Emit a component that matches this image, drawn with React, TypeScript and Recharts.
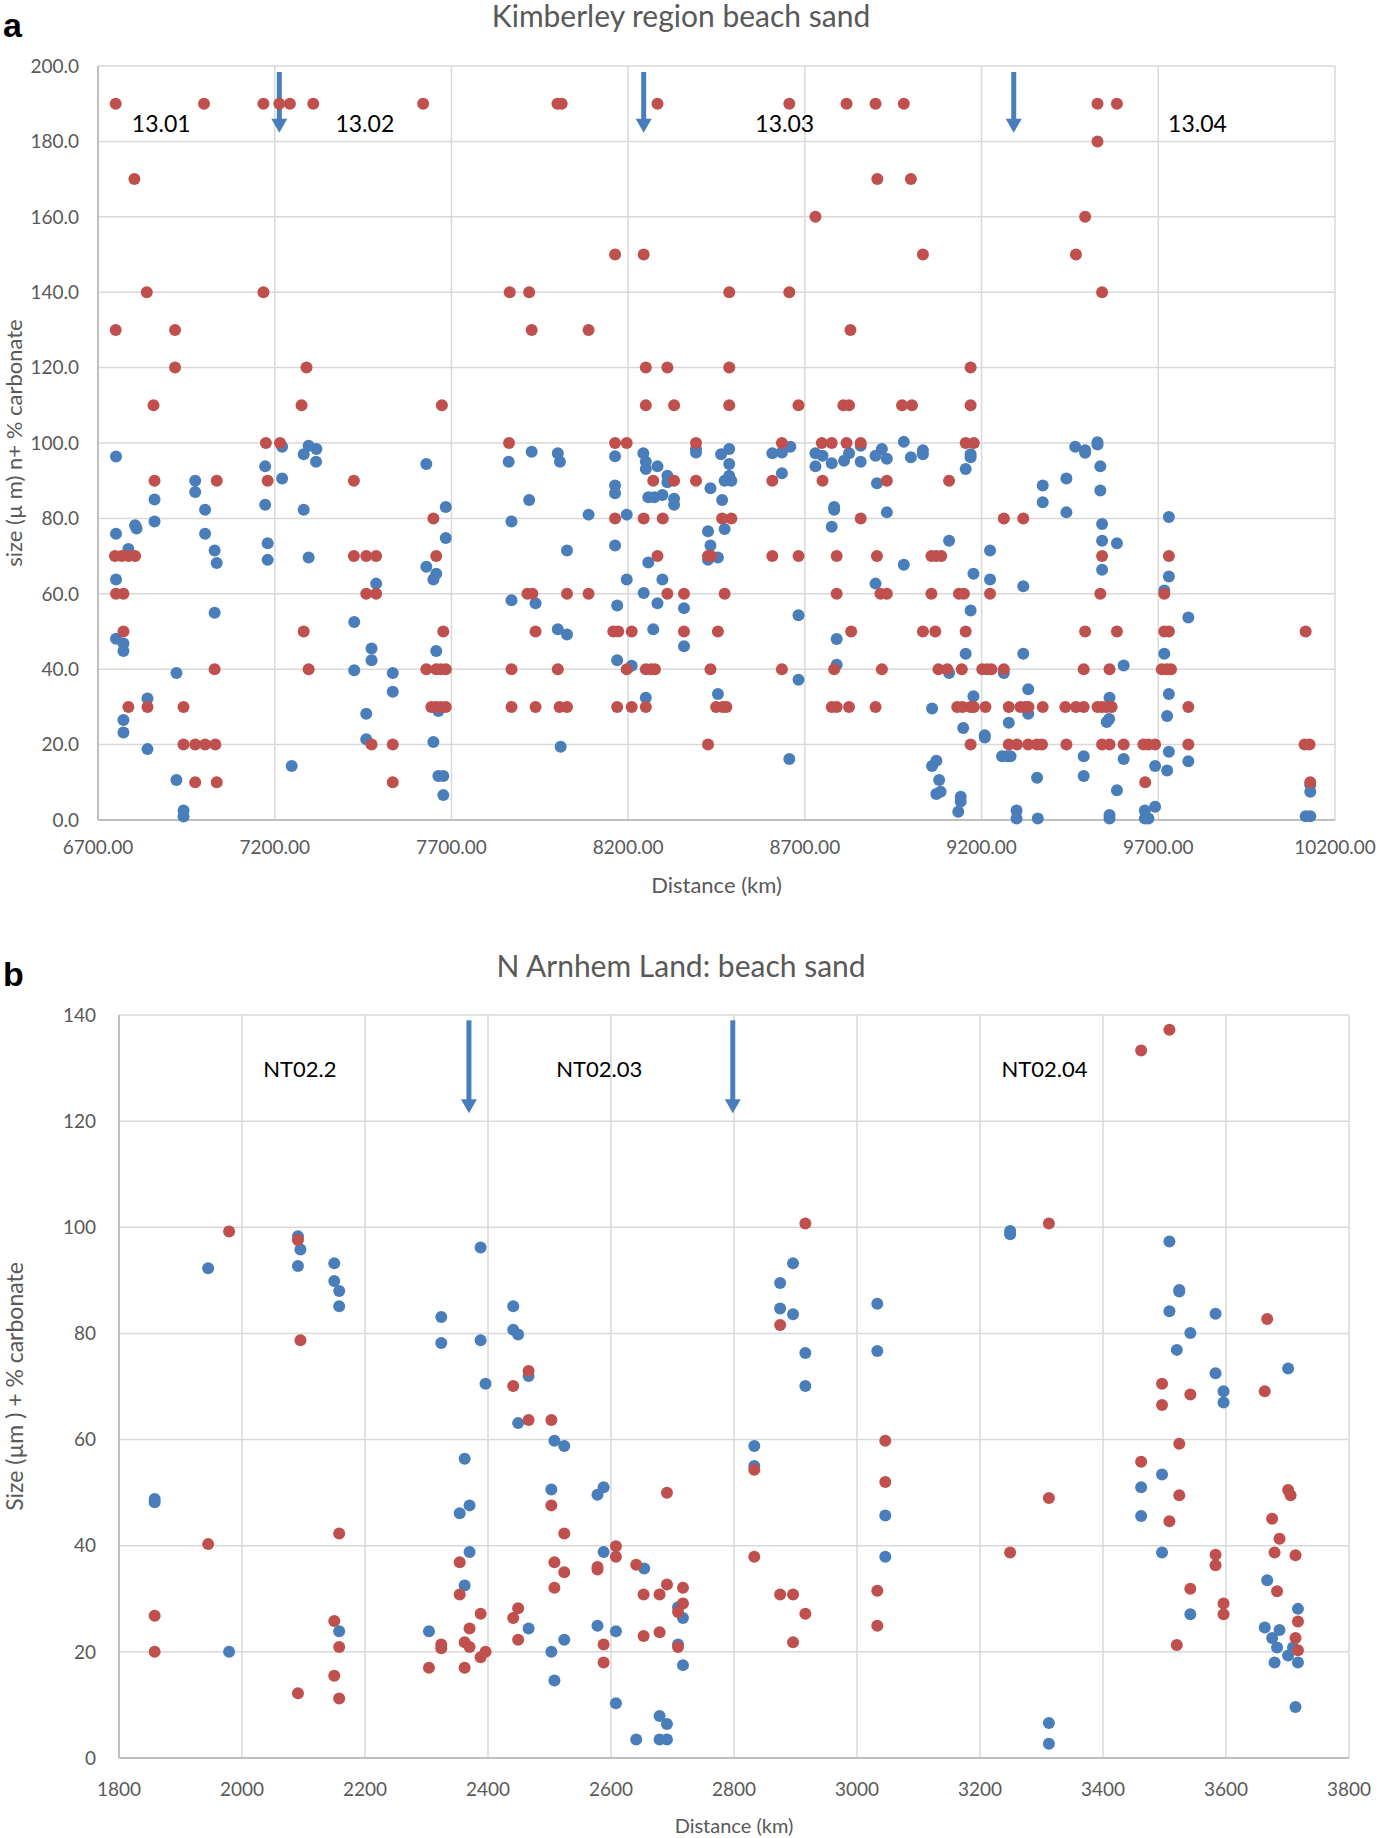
import React from "react";
import {
  CartesianGrid,
  Label,
  ReferenceDot,
  ReferenceLine,
  Scatter,
  ScatterChart,
  XAxis,
  YAxis,
} from "recharts";

const BLUE = "#4a7ebb";
const RED = "#c0504d";
const GRID = "#d9d9d9";
const AXIS = "#bfbfbf";
const TEXT = "#595959";
const FONT = "Lato, 'Open Sans', sans-serif";

// ---- panel a: Kimberley ----
const kimXTicks = [6700, 7200, 7700, 8200, 8700, 9200, 9700, 10200];
const kimYTicks = [0, 20, 40, 60, 80, 100, 120, 140, 160, 180, 200];
const kimArrows = [7213, 8244, 9291];
const kimSections = ["13.01", "13.02", "13.03", "13.04"];
const kimSectionKm = [6879, 7455, 8643, 9811];

const kimBlue: [number, number][] = [
  [6751, 96.4], [6751, 75.9], [6751, 63.8], [6751, 48.1], [6772, 46.8], [6772, 44.8], [6772, 26.5],
  [6772, 23.2], [6786, 71.9], [6805, 78.2], [6809, 77.3], [6840, 32.2], [6840, 18.8], [6860, 85],
  [6860, 79.2], [6922, 39], [6922, 10.6], [6942, 2.5], [6942, 0.9], [6975, 90], [6975, 87],
  [7003, 82.3], [7003, 75.9], [7030, 71.5], [7030, 55], [7036, 68.2], [7173, 93.8], [7173, 83.6],
  [7180, 73.4], [7180, 69], [7221, 99], [7221, 90.6], [7248, 14.3], [7282, 97], [7282, 82.3],
  [7296, 99.3], [7296, 69.6], [7317, 95], [7318, 98.4], [7425, 52.5], [7425, 39.7], [7459, 28.2],
  [7459, 21.4], [7474, 45.5], [7474, 42.4], [7487, 62.7], [7534, 39], [7534, 34], [7629, 94.4],
  [7629, 67.2], [7649, 63.8], [7649, 20.7], [7657, 65.3], [7657, 44.8], [7663, 28.9], [7663, 11.7],
  [7677, 11.7], [7677, 6.6], [7684, 83], [7684, 74.8], [7862, 95], [7870, 79.2], [7870, 58.3],
  [7920, 84.9], [7927, 97.7], [7938, 57.5], [8001, 97.3], [8001, 50.6], [8007, 95], [8009, 19.4],
  [8027, 71.5], [8027, 49.2], [8088, 81], [8163, 96.5], [8163, 88.7], [8163, 86.7], [8163, 72.8],
  [8169, 56.9], [8169, 42.4], [8196, 81], [8196, 63.8], [8210, 40.9], [8243, 97.3], [8244, 60.2],
  [8250, 95], [8250, 93.1], [8250, 32.4], [8257, 85.6], [8257, 68.3], [8271, 50.6], [8274, 85.6],
  [8283, 93.8], [8283, 57.5], [8297, 86.2], [8297, 63.8], [8311, 91.3], [8311, 89.6], [8330, 85.2],
  [8330, 83.6], [8358, 56.2], [8358, 46.1], [8392, 98.4], [8392, 97.5], [8426, 76.6], [8426, 69],
  [8433, 88], [8433, 72.8], [8454, 69.6], [8454, 33.4], [8463, 97], [8466, 84.9], [8473, 90],
  [8473, 77.2], [8486, 98.4], [8486, 94.4], [8486, 91.3], [8492, 90], [8608, 97.3], [8635, 97.5],
  [8635, 92], [8656, 16.2], [8659, 99], [8682, 54.3], [8682, 37.2], [8730, 97.3], [8730, 93.8],
  [8750, 96.6], [8776, 94.6], [8776, 77.8], [8783, 83], [8783, 82.3], [8790, 48], [8790, 41.2],
  [8811, 95.3], [8825, 97.3], [8858, 99.3], [8858, 95], [8900, 96.6], [8900, 62.7], [8904, 89.3],
  [8918, 98.4], [8932, 95.8], [8932, 81.6], [8980, 100.3], [8980, 67.7], [9000, 96.2], [9034, 98.1],
  [9034, 97], [9060, 29.6], [9060, 14.3], [9072, 15.7], [9080, 10.6], [9072, 6.9], [9084, 7.5],
  [9108, 74.1], [9108, 39], [9134, 2.2], [9141, 6.2], [9141, 4.9], [9148, 24.4], [9155, 93.1],
  [9155, 44.1], [9169, 97], [9169, 96.2], [9169, 55.6], [9177, 65.3], [9177, 32.8], [9209, 22.5],
  [9209, 21.9], [9224, 71.5], [9224, 63.8], [9258, 16.9], [9263, 39], [9272, 16.9], [9277, 25.8],
  [9282, 16.9], [9299, 2.5], [9299, 0.4], [9318, 62], [9318, 44.1], [9332, 34.7], [9332, 28.2],
  [9357, 11.2], [9359, 0.4], [9373, 88.7], [9373, 84.3], [9440, 90.6], [9440, 81.6], [9465, 99],
  [9489, 16.9], [9489, 11.7], [9493, 98.1], [9493, 97.4], [9528, 100.2], [9528, 99.6], [9536, 93.8],
  [9536, 87.4], [9541, 78.5], [9541, 74.1], [9541, 66.4], [9554, 26], [9561, 26.8], [9562, 32.4],
  [9562, 1.3], [9562, 0.4], [9583, 73.4], [9583, 7.9], [9602, 41], [9602, 16.2], [9662, 2.5],
  [9662, 0.4], [9672, 0.4], [9691, 14.3], [9691, 3.5], [9717, 60.9], [9717, 44.1], [9725, 27.6],
  [9725, 13.1], [9730, 80.4], [9730, 64.6], [9730, 33.4], [9730, 18.1], [9785, 53.7], [9785, 15.6],
  [10117, 1], [10130, 1], [10130, 9.3], [10130, 7.5],
];

const kimRed: [number, number][] = [
  [6750, 190], [7000, 190], [7168, 190], [7213, 190], [7243, 190], [7309, 190], [7620, 190],
  [8000, 190], [8012, 190], [8283, 190], [8656, 190], [8818, 190], [8900, 190], [8980, 190],
  [9528, 190], [9583, 190], [9528, 180], [6803, 170], [8905, 170], [9000, 170], [8730, 160],
  [9493, 160], [8163, 150], [8244, 150], [9034, 150], [9467, 150], [6838, 140], [7168, 140],
  [7865, 140], [7920, 140], [8486, 140], [8656, 140], [9541, 140], [6750, 130], [6918, 130],
  [7927, 130], [8088, 130], [8829, 130], [6918, 120], [7290, 120], [8250, 120], [8311, 120],
  [8486, 120], [9169, 120], [6857, 110], [7276, 110], [7673, 110], [8250, 110], [8330, 110],
  [8486, 110], [8682, 110], [8809, 110], [8825, 110], [8975, 110], [9003, 110], [9169, 110],
  [7175, 100], [7215, 100], [7863, 100], [8163, 100], [8196, 100], [8392, 100], [8635, 100],
  [8748, 100], [8776, 100], [8818, 100], [8858, 100], [9155, 100], [9178, 100],
  [6860, 90], [7036, 90], [7180, 90], [7424, 90], [8271, 90], [8330, 90], [8392, 90], [8608, 90],
  [8750, 90], [8932, 90], [9108, 90],
  [7649, 80], [8163, 80], [8244, 80], [8298, 80], [8466, 80], [8492, 80], [8858, 80], [9263, 80],
  [9318, 80],
  [6748, 70], [6767, 70], [6786, 70], [6805, 70], [7424, 70], [7459, 70], [7487, 70], [7657, 70],
  [8283, 70], [8426, 70], [8435, 70], [8608, 70], [8682, 70], [8790, 70], [8904, 70], [9058, 70],
  [9072, 70], [9086, 70], [9541, 70], [9730, 70],
  [6751, 60], [6772, 60], [7459, 60], [7487, 60], [7915, 60], [7929, 60], [8027, 60], [8088, 60],
  [8311, 60], [8358, 60], [8473, 60], [8790, 60], [8914, 60], [8932, 60], [9058, 60], [9136, 60],
  [9150, 60], [9224, 60], [9536, 60], [9717, 60],
  [6772, 50], [7282, 50], [7677, 50], [7938, 50], [8158, 50], [8172, 50], [8210, 50], [8358, 50],
  [8454, 50], [8831, 50], [9034, 50], [9069, 50], [9155, 50], [9493, 50], [9583, 50], [9717, 50],
  [9730, 50], [10117, 50],
  [7030, 40], [7296, 40], [7629, 40], [7657, 40], [7670, 40], [7684, 40], [7870, 40], [8001, 40],
  [8196, 40], [8250, 40], [8265, 40], [8276, 40], [8433, 40], [8635, 40], [8783, 40], [8918, 40],
  [9078, 40], [9103, 40], [9144, 40], [9202, 40], [9216, 40], [9228, 40], [9263, 40], [9489, 40],
  [9562, 40], [9710, 40], [9724, 40], [9736, 40],
  [6786, 30], [6840, 30], [6942, 30], [7643, 30], [7657, 30], [7670, 30], [7684, 30], [7870, 30],
  [7938, 30], [8006, 30], [8027, 30], [8169, 30], [8210, 30], [8250, 30], [8449, 30], [8468, 30],
  [8478, 30], [8776, 30], [8790, 30], [8825, 30], [8900, 30], [9131, 30], [9146, 30], [9169, 30],
  [9178, 30], [9211, 30], [9277, 30], [9310, 30], [9324, 30], [9333, 30], [9373, 30], [9437, 30],
  [9467, 30], [9489, 30], [9528, 30], [9541, 30], [9554, 30], [9568, 30], [9785, 30],
  [6942, 20], [6975, 20], [7003, 20], [7032, 20], [7474, 20], [7534, 20], [8426, 20], [9169, 20],
  [9277, 20], [9300, 20], [9332, 20], [9357, 20], [9371, 20], [9440, 20], [9541, 20], [9562, 20],
  [9602, 20], [9658, 20], [9672, 20], [9691, 20], [9785, 20], [10114, 20], [10128, 20],
  [6975, 10], [7036, 10], [7534, 10], [9663, 10], [10130, 10],
];

// ---- panel b: N Arnhem Land ----
const arnXTicks = [1800, 2000, 2200, 2400, 2600, 2800, 3000, 3200, 3400, 3600, 3800];
const arnYTicks = [0, 20, 40, 60, 80, 100, 120, 140];
const arnArrows = [2369, 2798];
const arnSections = ["NT02.2", "NT02.03", "NT02.04"];
const arnSectionKm = [2094, 2581, 3305];

const arnBlue: [number, number][] = [
  [1858, 48.8], [1858, 48.2], [1945, 92.3], [1979, 20], [2091, 98.3], [2095, 95.8], [2091, 92.7],
  [2150, 93.2], [2150, 89.9], [2158, 88], [2158, 85.1], [2158, 23.9], [2304, 23.9], [2324, 83.1],
  [2324, 78.2], [2354, 46.1], [2362, 56.4], [2362, 32.5], [2370, 47.6], [2370, 38.8], [2388, 96.2],
  [2388, 78.7], [2396, 70.5], [2441, 85.1], [2441, 80.7], [2449, 79.8], [2449, 63.1], [2466, 72],
  [2466, 24.4], [2503, 50.6], [2503, 20], [2508, 59.8], [2508, 14.6], [2524, 58.8], [2524, 22.3],
  [2578, 49.6], [2578, 24.9], [2588, 51], [2588, 38.8], [2608, 23.9], [2608, 10.3], [2641, 3.5],
  [2654, 35.7], [2679, 7.9], [2679, 3.5], [2691, 6.4], [2691, 3.5], [2709, 28.4], [2709, 21.4],
  [2717, 26.4], [2717, 17.5], [2833, 58.8], [2833, 55], [2875, 89.5], [2875, 84.7], [2896, 93.2],
  [2896, 83.6], [2916, 76.3], [2916, 70.1], [3033, 85.6], [3033, 76.7], [3046, 45.7], [3046, 37.9],
  [3249, 99.3], [3249, 98.7], [3312, 6.6], [3312, 2.7], [3462, 51], [3462, 45.6], [3496, 53.4],
  [3496, 38.7], [3508, 97.3], [3508, 84.2], [3520, 76.9], [3524, 88.2], [3524, 87.9], [3542, 80.1],
  [3542, 27.1], [3583, 83.7], [3583, 72.5], [3596, 69.1], [3596, 67], [3663, 24.6], [3667, 33.5],
  [3675, 22.6], [3679, 18], [3683, 20.8], [3687, 24.1], [3701, 73.4], [3701, 19.3], [3709, 20.8],
  [3713, 9.6], [3717, 28.1], [3717, 18],
];

const arnRed: [number, number][] = [
  [1858, 26.8], [1858, 20], [1945, 40.3], [1979, 99.2], [2091, 97.6], [2091, 12.2], [2095, 78.7],
  [2150, 25.8], [2150, 15.5], [2158, 42.3], [2158, 20.9], [2158, 11.2], [2304, 17], [2324, 21.4],
  [2324, 20.7], [2354, 36.9], [2354, 30.8], [2362, 21.8], [2362, 17], [2370, 24.4], [2370, 20.9],
  [2388, 27.2], [2388, 19], [2396, 20], [2441, 70.1], [2441, 26.4], [2449, 28.2], [2449, 22.3],
  [2466, 72.9], [2466, 63.7], [2503, 63.7], [2503, 47.6], [2508, 36.9], [2508, 32.1], [2524, 42.3],
  [2524, 35], [2578, 36], [2578, 35.5], [2588, 21.4], [2588, 18], [2608, 39.9], [2608, 37.9],
  [2641, 36.4], [2653, 30.8], [2653, 23], [2679, 30.8], [2679, 23.7], [2691, 50], [2691, 32.7],
  [2709, 27.5], [2709, 20.9], [2717, 32.1], [2717, 29.1], [2833, 54.3], [2833, 37.9], [2875, 81.6],
  [2875, 30.8], [2896, 30.8], [2896, 21.8], [2916, 100.7], [2916, 27.2], [3033, 31.5], [3033, 24.9],
  [3046, 59.8], [3046, 52], [3249, 38.7], [3312, 100.7], [3312, 49], [3462, 133.3], [3462, 55.8],
  [3496, 70.5], [3496, 66.5], [3508, 137.2], [3508, 44.6], [3520, 21.3], [3524, 59.2], [3524, 49.5],
  [3542, 68.5], [3542, 31.9], [3583, 38.3], [3583, 36.3], [3596, 29.1], [3596, 27.1], [3663, 69.1],
  [3667, 82.7], [3675, 45.1], [3679, 38.7], [3683, 31.4], [3687, 41.3], [3701, 50.5], [3705, 49.5],
  [3713, 38.2], [3713, 22.6], [3717, 25.7], [3717, 20.3],
];

const toPoints = (pairs: [number, number][]) => pairs.map(([x, y]) => ({ x, y }));

const dot = (color: string) => (p: any) => <circle cx={p.cx} cy={p.cy} r={6} fill={color} />;

function Arrow(p: any) {
  const { x1, y1, x2, y2 } = p;
  const head = 14;
  return (
    <g>
      <line x1={x1} y1={y1} x2={x2} y2={y2 - head + 1} stroke={BLUE} strokeWidth={5} />
      <polygon points={`${x2 - 8},${y2 - head} ${x2 + 8},${y2 - head} ${x2},${y2}`} fill={BLUE} />
    </g>
  );
}

type PanelProps = {
  width: number;
  height: number;
  margin: { top: number; right: number; bottom: number; left: number };
  yAxisWidth: number;
  xAxisHeight: number;
  xTicks: number[];
  yTicks: number[];
  xFormat: (v: number) => string;
  yFormat: (v: number) => string;
  xTickMargin: number;
  yTickMargin: number;
  yLabel: string;
  yLabelOffset: number;
  yLabelSize: number;
  xLabelOffset: number;
  xLabelSize: number;
  blue: [number, number][];
  red: [number, number][];
  arrows: number[];
  arrowSpan: [number, number];
  sections: string[];
  sectionKm: number[];
  sectionLevel: number;
  sectionSize: number;
};

function Panel(props: PanelProps) {
  const tick = { fill: TEXT, fontSize: 19, fontFamily: FONT };
  const xDomain: [number, number] = [props.xTicks[0], props.xTicks[props.xTicks.length - 1]];
  const yDomain: [number, number] = [props.yTicks[0], props.yTicks[props.yTicks.length - 1]];
  return (
    <ScatterChart width={props.width} height={props.height} margin={props.margin}>
      <CartesianGrid stroke={GRID} strokeWidth={1.5} />
      <XAxis
        type="number"
        dataKey="x"
        domain={xDomain}
        ticks={props.xTicks}
        interval={0}
        tickFormatter={props.xFormat}
        tick={tick}
        tickLine={false}
        tickSize={0}
        tickMargin={props.xTickMargin}
        axisLine={{ stroke: AXIS, strokeWidth: 2 }}
        height={props.xAxisHeight}
      >
        <Label
          value="Distance (km)"
          position="insideBottom"
          offset={props.xLabelOffset}
          fill={TEXT}
          fontSize={props.xLabelSize}
          fontFamily={FONT}
        />
      </XAxis>
      <YAxis
        type="number"
        dataKey="y"
        domain={yDomain}
        ticks={props.yTicks}
        interval={0}
        tickFormatter={props.yFormat}
        tick={tick}
        tickLine={false}
        tickSize={0}
        tickMargin={props.yTickMargin}
        axisLine={{ stroke: AXIS, strokeWidth: 2 }}
        width={props.yAxisWidth}
      >
        <Label
          value={props.yLabel}
          angle={-90}
          position="insideLeft"
          offset={props.yLabelOffset}
          fill={TEXT}
          fontSize={props.yLabelSize}
          fontFamily={FONT}
          style={{ textAnchor: "middle" }}
        />
      </YAxis>
      <Scatter data={toPoints(props.blue)} fill={BLUE} shape={dot(BLUE)} isAnimationActive={false} />
      <Scatter data={toPoints(props.red)} fill={RED} shape={dot(RED)} isAnimationActive={false} />
      {props.arrows.map((km) => (
        <ReferenceLine
          key={km}
          segment={[
            { x: km, y: props.arrowSpan[0] },
            { x: km, y: props.arrowSpan[1] },
          ]}
          shape={Arrow}
        />
      ))}
      {props.sections.map((name, i) => (
        <ReferenceDot
          key={name}
          x={props.sectionKm[i]}
          y={props.sectionLevel}
          r={0}
          shape={(p: any) => (
            <text
              x={p.cx}
              y={p.cy}
              textAnchor="middle"
              dominantBaseline="central"
              fill="#000"
              fontSize={props.sectionSize}
              fontFamily={FONT}
            >
              {name}
            </text>
          )}
        />
      ))}
    </ScatterChart>
  );
}

const titleStyle: React.CSSProperties = {
  position: "absolute",
  left: 0,
  width: 1362,
  textAlign: "center",
  color: TEXT,
  fontFamily: FONT,
  fontSize: 30,
  lineHeight: "30px",
};

const letterStyle: React.CSSProperties = {
  position: "absolute",
  left: 3,
  fontFamily: "'Liberation Sans', Arial, sans-serif",
  fontWeight: "bold",
  fontSize: 34,
  lineHeight: "34px",
  color: "#000",
};

export default function App() {
  return (
    <div style={{ position: "absolute", left: 0, top: 0, width: 1379, height: 1838, background: "#fff" }}>
      <div style={{ position: "absolute", left: 0, top: 0 }}>
        <Panel
          width={1379}
          height={905}
          margin={{ top: 66, right: 44, bottom: 0, left: 8 }}
          yAxisWidth={90}
          xAxisHeight={85}
          xTicks={kimXTicks}
          yTicks={kimYTicks}
          xFormat={(v) => v.toFixed(2)}
          yFormat={(v) => v.toFixed(1)}
          xTickMargin={21}
          yTickMargin={19}
          yLabel="size (µ m) n+ % carbonate"
          yLabelOffset={6}
          yLabelSize={22}
          xLabelOffset={12}
          xLabelSize={22}
          blue={kimBlue}
          red={kimRed}
          arrows={kimArrows}
          arrowSpan={[198.4, 182.3]}
          sections={kimSections}
          sectionKm={kimSectionKm}
          sectionLevel={185}
          sectionSize={23}
        />
      </div>
      <div style={{ position: "absolute", left: 0, top: 920 }}>
        <Panel
          width={1379}
          height={918}
          margin={{ top: 95, right: 30, bottom: 0, left: 19 }}
          yAxisWidth={100}
          xAxisHeight={80}
          xTicks={arnXTicks}
          yTicks={arnYTicks}
          xFormat={(v) => String(v)}
          yFormat={(v) => String(v)}
          xTickMargin={25}
          yTickMargin={23}
          yLabel="Size (µm ) + % carbonate"
          yLabelOffset={-4}
          yLabelSize={23}
          xLabelOffset={5}
          xLabelSize={20}
          blue={arnBlue}
          red={arnRed}
          arrows={arnArrows}
          arrowSpan={[139, 121.5]}
          sections={arnSections}
          sectionKm={arnSectionKm}
          sectionLevel={130}
          sectionSize={22}
        />
      </div>
      <div style={{ ...titleStyle, top: 0 }}>Kimberley region beach sand</div>
      <div style={{ ...titleStyle, top: 950 }}>N Arnhem Land: beach sand</div>
      <div style={{ ...letterStyle, top: 8 }}>a</div>
      <div style={{ ...letterStyle, top: 957 }}>b</div>
    </div>
  );
}
